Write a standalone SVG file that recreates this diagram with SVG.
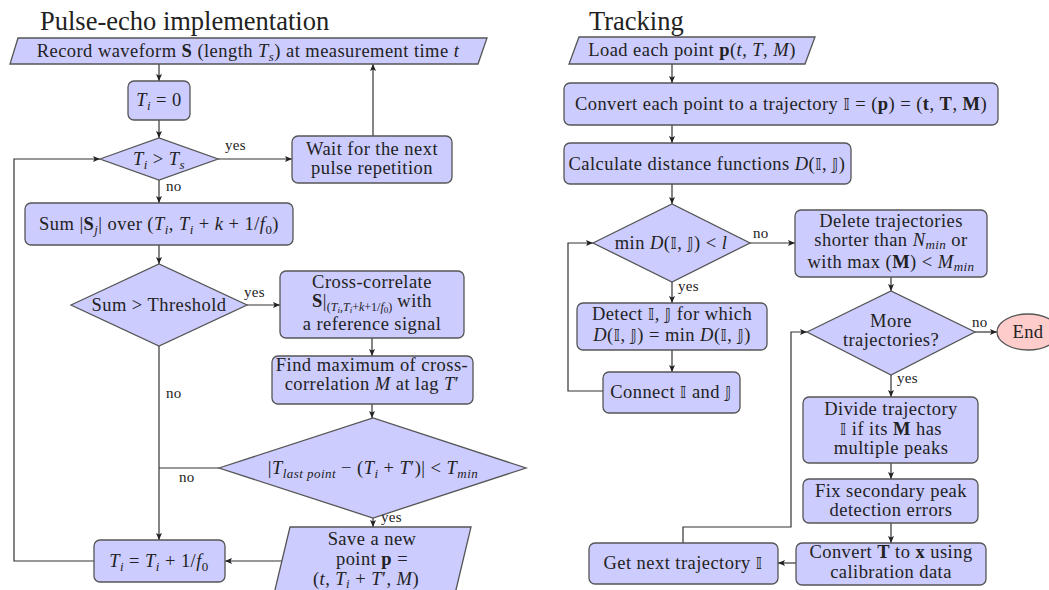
<svg xmlns="http://www.w3.org/2000/svg" width="1049" height="590" viewBox="0 0 1049 590">
<defs>
<marker id="ah" markerWidth="7" markerHeight="6" refX="7" refY="3" orient="auto" markerUnits="userSpaceOnUse"><path d="M0,0 L7,3 L0,6 L1.5,3 z" fill="#222"/></marker>
<style>
.n{fill:#ccccff;stroke:#555;stroke-width:1.3}
.e{fill:#ffcccc;stroke:#555;stroke-width:1.3}
.c{fill:none;stroke:#333;stroke-width:1.2}
.a{marker-end:url(#ah)}
text{font-family:"Liberation Serif","DejaVu Serif",serif;font-size:18.5px;letter-spacing:0.45px;fill:#222;text-anchor:middle}
.ttl{font-size:26.5px;letter-spacing:0;text-anchor:start}
.lb{font-size:15px;letter-spacing:0.3px;text-anchor:start}
.i{font-style:italic}
.b{font-weight:bold}
.bb{font-family:"DejaVu Sans",sans-serif;font-size:16px}
.s{font-size:13px}
.ss{font-size:12px;letter-spacing:0}
.sss{font-size:9px;letter-spacing:0}
</style>
</defs>
<rect width="1049" height="590" fill="#fff"/>
<text class="ttl" x="40" y="30">Pulse-echo implementation</text>
<text class="ttl" x="589" y="30">Tracking</text>

<g id="connectors">
<path class="c a" d="M159,64 V81"/>
<path class="c a" d="M159,120 V138"/>
<path class="c a" d="M218,159 H292"/>
<path class="c a" d="M373,136 V64"/>
<path class="c a" d="M159,180 V203"/>
<path class="c a" d="M159,245 V264"/>
<path class="c a" d="M247,305 H280"/>
<path class="c a" d="M372,338 V356"/>
<path class="c a" d="M372,404 V418"/>
<path class="c a" d="M159,346 V540"/>
<path class="c" d="M219,468 H159"/>
<path class="c a" d="M373,518 V527"/>
<path class="c a" d="M282,561 H225"/>
<path class="c a" d="M94,561 H14 V159 H100"/>
<path class="c a" d="M672,64 V83"/>
<path class="c a" d="M672,125 V143"/>
<path class="c a" d="M672,184 V204"/>
<path class="c a" d="M750,243 H795"/>
<path class="c a" d="M672,282 V303"/>
<path class="c a" d="M672,350 V372"/>
<path class="c a" d="M603,391 H568 V243 H593"/>
<path class="c a" d="M891,277 V291"/>
<path class="c a" d="M975,332 H997"/>
<path class="c a" d="M891,375 V397"/>
<path class="c a" d="M891,463 V479"/>
<path class="c a" d="M891,523 V543"/>
<path class="c a" d="M796,563 H778"/>
<path class="c a" d="M683,543 V527 H791 V332 H807"/>
<text class="lb" x="225" y="150">yes</text>
<text class="lb" x="166" y="191">no</text>
<text class="lb" x="244" y="297">yes</text>
<text class="lb" x="166" y="398">no</text>
<text class="lb" x="179" y="482">no</text>
<text class="lb" x="381" y="522">yes</text>
<text class="lb" x="753" y="238">no</text>
<text class="lb" x="678" y="291">yes</text>
<text class="lb" x="972" y="327">no</text>
<text class="lb" x="897" y="383">yes</text>
</g>

<g id="record"><path class="n" d="M18,38 H487 L478,64 H10 Z"/>
<text x="248" y="57">Record waveform <tspan class="b">S</tspan> (length <tspan class="i">T</tspan><tspan class="i s" dy="4">s</tspan><tspan dy="-4">) at measurement time </tspan><tspan class="i">t</tspan></text></g>

<g id="ti0"><rect class="n" x="128" y="81" width="62" height="39" rx="6"/>
<text x="159" y="106"><tspan class="i">T</tspan><tspan class="i s" dy="4">i</tspan><tspan dy="-4"> = 0</tspan></text></g>

<g id="d1"><path class="n" d="M100,159 L159,138 L218,159 L159,180 Z"/>
<text x="159" y="165"><tspan class="i">T</tspan><tspan class="i s" dy="4">i</tspan><tspan dy="-4"> &gt; </tspan><tspan class="i">T</tspan><tspan class="i s" dy="4">s</tspan></text></g>

<g id="wait"><rect class="n" x="292" y="136" width="160" height="47" rx="6"/>
<text x="372" y="155">Wait for the next</text><text x="372" y="174">pulse repetition</text></g>

<g id="sum"><rect class="n" x="25" y="203" width="268" height="42" rx="6"/>
<text x="159" y="230">Sum |<tspan class="b">S</tspan><tspan class="i s" dy="4">j</tspan><tspan dy="-4">| over (</tspan><tspan class="i">T</tspan><tspan class="i s" dy="4">i</tspan><tspan dy="-4">, </tspan><tspan class="i">T</tspan><tspan class="i s" dy="4">i</tspan><tspan dy="-4"> + </tspan><tspan class="i">k</tspan> + 1/<tspan class="i">f</tspan><tspan class="s" dy="4">0</tspan><tspan dy="-4">)</tspan></text></g>

<g id="thr"><path class="n" d="M71,305 L159,264 L247,305 L159,346 Z"/>
<text x="159" y="311">Sum &gt; Threshold</text></g>

<g id="xcorr"><rect class="n" x="280" y="271" width="184" height="67" rx="6"/>
<text x="372" y="288">Cross-correlate</text>
<text x="372" y="307"><tspan class="b">S</tspan>|<tspan class="ss" dy="4">(</tspan><tspan class="i ss">T</tspan><tspan class="i sss" dy="2">i</tspan><tspan class="ss" dy="-2">,</tspan><tspan class="i ss">T</tspan><tspan class="i sss" dy="2">i</tspan><tspan class="ss" dy="-2">+</tspan><tspan class="i ss">k</tspan><tspan class="ss">+1/</tspan><tspan class="i ss">f</tspan><tspan class="sss" dy="2">0</tspan><tspan class="ss" dy="-2">)</tspan><tspan dy="-4"> with</tspan></text>
<text x="372" y="330">a reference signal</text></g>

<g id="findmax"><rect class="n" x="272" y="356" width="201" height="48" rx="6"/>
<text x="372" y="371">Find maximum of cross-</text>
<text x="372" y="390">correlation <tspan class="i">M</tspan> at lag <tspan class="i">T</tspan>′</text></g>

<g id="tmin"><path class="n" d="M219,468 L373,418 L526,468 L373,518 Z"/>
<text x="373" y="474">|<tspan class="i">T</tspan><tspan class="i s" dy="4">last point</tspan><tspan dy="-4"> − (</tspan><tspan class="i">T</tspan><tspan class="i s" dy="4">i</tspan><tspan dy="-4"> + </tspan><tspan class="i">T</tspan>′)| &lt; <tspan class="i">T</tspan><tspan class="i s" dy="4">min</tspan></text></g>

<g id="save"><path class="n" d="M290,527 H471 L455,594 H274 Z"/>
<text x="372" y="545">Save a new</text>
<text x="372" y="565">point <tspan class="b">p</tspan> =</text>
<text x="366" y="585">(<tspan class="i">t</tspan>, <tspan class="i">T</tspan><tspan class="i s" dy="3">i</tspan><tspan dy="-3"> + </tspan><tspan class="i">T</tspan>′, <tspan class="i">M</tspan>)</text></g>

<g id="tiinc"><rect class="n" x="94" y="540" width="131" height="42" rx="6"/>
<text x="159" y="567"><tspan class="i">T</tspan><tspan class="i s" dy="4">i</tspan><tspan dy="-4"> = </tspan><tspan class="i">T</tspan><tspan class="i s" dy="4">i</tspan><tspan dy="-4"> + 1/</tspan><tspan class="i">f</tspan><tspan class="s" dy="4">0</tspan></text></g>

<g id="load"><path class="n" d="M579,37 H815 L805,64 H569 Z"/>
<text x="692" y="56">Load each point <tspan class="b">p</tspan>(<tspan class="i">t</tspan>, <tspan class="i">T</tspan>, <tspan class="i">M</tspan>)</text></g>

<g id="convert"><rect class="n" x="564" y="83" width="434" height="42" rx="6"/>
<text x="781" y="110">Convert each point to a trajectory <tspan class="bb">𝕀</tspan> = (<tspan class="b">p</tspan>) = (<tspan class="b">t</tspan>, <tspan class="b">T</tspan>, <tspan class="b">M</tspan>)</text></g>

<g id="calc"><rect class="n" x="564" y="143" width="287" height="41" rx="6"/>
<text x="707" y="170">Calculate distance functions <tspan class="i">D</tspan>(<tspan class="bb">𝕀</tspan>, <tspan class="bb">𝕁</tspan>)</text></g>

<g id="mind"><path class="n" d="M593,243 L672,204 L750,243 L672,282 Z"/>
<text x="671" y="249">min <tspan class="i">D</tspan>(<tspan class="bb">𝕀</tspan>, <tspan class="bb">𝕁</tspan>) &lt; <tspan class="i">l</tspan></text></g>

<g id="delete"><rect class="n" x="795" y="210" width="192" height="67" rx="6"/>
<text x="891" y="227">Delete trajectories</text>
<text x="891" y="246">shorter than <tspan class="i">N</tspan><tspan class="i s" dy="3">min</tspan><tspan dy="-3"> or</tspan></text>
<text x="891" y="268">with max (<tspan class="b">M</tspan>) &lt; <tspan class="i">M</tspan><tspan class="i s" dy="3">min</tspan></text></g>

<g id="detect"><rect class="n" x="577" y="303" width="190" height="47" rx="6"/>
<text x="672" y="320">Detect <tspan class="bb">𝕀</tspan>, <tspan class="bb">𝕁</tspan> for which</text>
<text x="672" y="341"><tspan class="i">D</tspan>(<tspan class="bb">𝕀</tspan>, <tspan class="bb">𝕁</tspan>) = min <tspan class="i">D</tspan>(<tspan class="bb">𝕀</tspan>, <tspan class="bb">𝕁</tspan>)</text></g>

<g id="connect"><rect class="n" x="603" y="372" width="137" height="41" rx="6"/>
<text x="671" y="398">Connect <tspan class="bb">𝕀</tspan> and <tspan class="bb">𝕁</tspan></text></g>

<g id="more"><path class="n" d="M807,332 L891,291 L975,332 L891,375 Z"/>
<text x="891" y="327">More</text><text x="891" y="346">trajectories?</text></g>

<g id="end"><ellipse class="e" cx="1028" cy="332" rx="31" ry="18"/>
<text x="1028" y="338">End</text></g>

<g id="divide"><rect class="n" x="803" y="397" width="175" height="66" rx="6"/>
<text x="891" y="415">Divide trajectory</text>
<text x="891" y="435"><tspan class="bb">𝕀</tspan> if its <tspan class="b">M</tspan> has</text>
<text x="891" y="454">multiple peaks</text></g>

<g id="fix"><rect class="n" x="803" y="479" width="175" height="44" rx="6"/>
<text x="891" y="497">Fix secondary peak</text>
<text x="891" y="516">detection errors</text></g>

<g id="convt"><rect class="n" x="796" y="543" width="190" height="42" rx="6"/>
<text x="891" y="558">Convert <tspan class="b">T</tspan> to <tspan class="b">x</tspan> using</text>
<text x="891" y="578">calibration data</text></g>

<g id="getnext"><rect class="n" x="589" y="543" width="189" height="41" rx="6"/>
<text x="683" y="569">Get next trajectory <tspan class="bb">𝕀</tspan></text></g>
</svg>
